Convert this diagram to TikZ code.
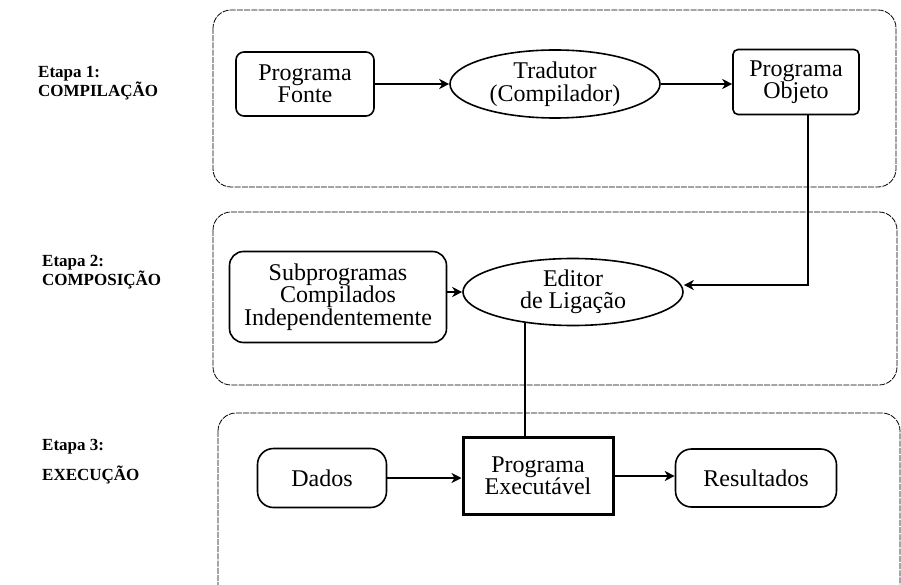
\documentclass[tikz,border=0pt]{standalone}
\usepackage{fontspec}
\setmainfont{Liberation Serif}
\usetikzlibrary{arrows.meta,shapes.geometric}
\begin{document}
\begin{tikzpicture}[x=1pt,y=-1pt,
  stage/.style={draw, rounded corners=18pt, line width=0.8pt, dash pattern=on 6pt off 1.2pt},
  nodetext/.style={font=\fontsize{24}{22.5}\selectfont, align=center, inner sep=0pt},
  rbox/.style={nodetext, draw, line width=1.6pt, rounded corners=8pt},
  ell/.style={nodetext, draw, ellipse, line width=1.6pt},
  conn/.style={line width=1.8pt, -{Stealth[length=10pt,width=10pt,inset=3pt]}},
  link/.style={line width=1.8pt},
  stagelbl/.style={font=\bfseries\fontsize{17}{19}\selectfont, align=left, anchor=west, inner sep=0pt}
]
\useasboundingbox (0,0) rectangle (901,585);
\begin{scope}
  \clip (0,0) rectangle (901,585);
  \draw[stage] (213,10) rectangle (896,187);
  \draw[stage] (213,212) rectangle (897,385);
  \draw[stage] (218,413) rectangle (900,660);
\end{scope}

% stage labels
\node[stagelbl] (l1) at (38,83) {Etapa 1:\\COMPILAÇÃO};
\node[stagelbl] (l2) at (42,272) {Etapa 2:\\COMPOSIÇÃO};
\node[stagelbl] (l3) at (42,462) {Etapa 3:\\[11pt]EXECUÇÃO};

% stage 1
\node[rbox, minimum width=138pt, minimum height=64pt] (fonte) at (305,84) {Programa\\Fonte};
\node[ell, minimum width=210pt, minimum height=68pt] (trad) at (555,84) {Tradutor\\(Compilador)};
\node[rbox, rounded corners=5pt, minimum width=126pt, minimum height=65pt] (objeto) at (796,82) {Programa\\Objeto};

% stage 2
\node[rbox, rounded corners=14pt, minimum width=217pt, minimum height=91pt] (subprog) at (338,297) {Subprogramas\\Compilados\\Independentemente};
\node[ell, minimum width=220pt, minimum height=67pt] (editor) at (573,292) {Editor\\de Ligação};

% stage 3
\node[nodetext, draw, line width=3pt, minimum width=150pt, minimum height=77pt] (exec) at (538,476) {Programa\\Executável};
\node[rbox, rounded corners=16pt, minimum width=129pt, minimum height=59pt] (dados) at (322,478) {Dados};
\node[rbox, rounded corners=16pt, minimum width=161pt, minimum height=58pt] (result) at (756,478) {Resultados};

% connectors
\draw[conn] (fonte.east) -- (trad.west);
\draw[conn] (trad.east) -- (trad.east -| objeto.west);
\coordinate (bend) at (808,285);
\draw[conn] (objeto.south -| bend) -- (bend) -- (bend -| editor.east);
\draw[conn] (subprog.east |- editor.west) -- (editor.west);
\draw[link] (editor.213.5) -- (editor.213.5 |- exec.north);
\draw[conn] (dados.east) -- (dados.east -| exec.west);
\draw[conn] (exec.east) -- (exec.east -| result.west);
\end{tikzpicture}
\end{document}
